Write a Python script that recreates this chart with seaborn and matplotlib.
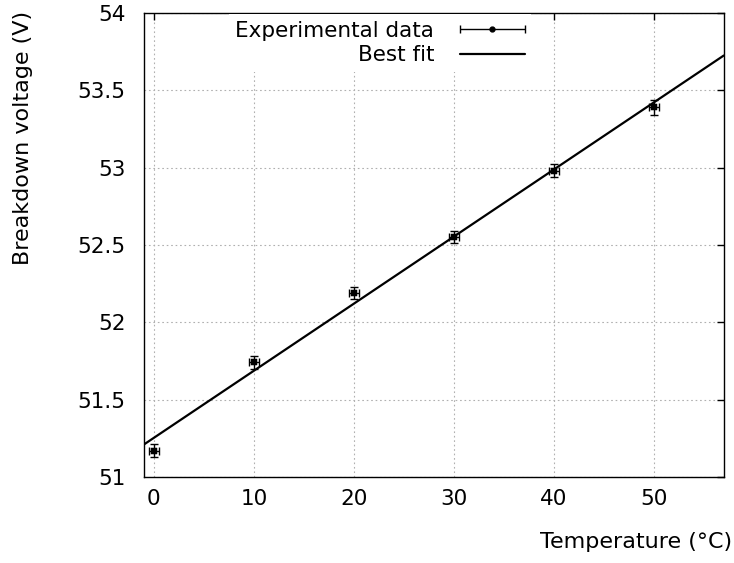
import numpy as np
import pandas as pd
import matplotlib
matplotlib.use("Agg")
import matplotlib.pyplot as plt
import seaborn as sns
from matplotlib.lines import Line2D
from matplotlib.legend_handler import HandlerErrorbar

# Measured breakdown voltage vs temperature
temperature = [0, 10, 20, 30, 40, 50]
voltage = [51.17, 51.74, 52.19, 52.55, 52.98, 53.39]
temp_err = [0.5, 0.5, 0.5, 0.5, 0.5, 0.5]
volt_err = [0.04, 0.04, 0.04, 0.04, 0.04, 0.05]

x_ticks = [0, 10, 20, 30, 40, 50]
y_ticks = [51, 51.5, 52, 52.5, 53, 53.5, 54]
y_tick_labels = ["51", "51.5", "52", "52.5", "53", "53.5", "54"]

df = pd.DataFrame({"temperature": temperature, "voltage": voltage})

# linear fit of the data
slope, intercept = np.polyfit(temperature, voltage, 1)
fit_x = np.array([-1, 57])
fit_df = pd.DataFrame({"temperature": fit_x, "voltage": intercept + slope * fit_x})

sns.set_style("white")
plt.rcParams["font.family"] = ["DejaVu Sans"]
plt.rcParams["text.color"] = "black"
plt.rcParams["xtick.color"] = "black"
plt.rcParams["ytick.color"] = "black"

fig = plt.figure(figsize=(7.34, 5.63), dpi=100)
ax = fig.add_axes([0.196, 0.153, 0.79, 0.824])

ax.errorbar(temperature, voltage, xerr=temp_err, yerr=volt_err, fmt="none",
            ecolor="black", elinewidth=1, capsize=3, zorder=3)
sns.scatterplot(data=df, x="temperature", y="voltage", marker="s", s=20,
                color="black", edgecolor="black", ax=ax, zorder=4)
sns.lineplot(data=fit_df, x="temperature", y="voltage", color="black",
             linewidth=1.6, ax=ax, zorder=5)

# legend the gnuplot way: label first, then sample, on a blank box
h_data = ax.errorbar([np.nan], [np.nan], xerr=[1], fmt="o", color="black",
                     markersize=3.5, capsize=3, elinewidth=1)
h_fit = Line2D([], [], color="black", linewidth=1.6)
leg = ax.legend([h_data, h_fit], ["Experimental data", "Best fit"], loc="upper right",
                bbox_to_anchor=(0.668, 0.997), frameon=True, facecolor="white",
                edgecolor="none", framealpha=1, fancybox=False, markerfirst=False,
                fontsize=15.5, handlelength=3.0, handletextpad=1.2, labelspacing=0.2,
                borderpad=0.3, borderaxespad=0,
                handler_map={type(h_data): HandlerErrorbar(xerr_size=1.5)})
leg.set_zorder(6)

ax.set_xlim(-1, 57)
ax.set_ylim(51, 54)
ax.set_xticks(x_ticks)
ax.set_yticks(y_ticks)
ax.set_yticklabels(y_tick_labels)
ax.tick_params(direction="in", top=True, right=True, labelsize=15.5, length=5,
               width=1)
ax.tick_params(axis="y", pad=13)
ax.tick_params(axis="x", pad=9)
ax.grid(True, color="#b0b0b0", linestyle=(0, (1.5, 2.5)), linewidth=0.8)
for s in ax.spines.values():
    s.set_color("black")
    s.set_linewidth(1.0)

ax.set_xlabel("")
ax.set_ylabel("")
fig.text(0.031, 0.755, "Breakdown voltage (V)", rotation=90, fontsize=16,
         ha="center", va="center")
fig.text(0.997, 0.037, "Temperature (°C)", fontsize=16, ha="right", va="center")

fig.savefig("out.png", dpi=100)
